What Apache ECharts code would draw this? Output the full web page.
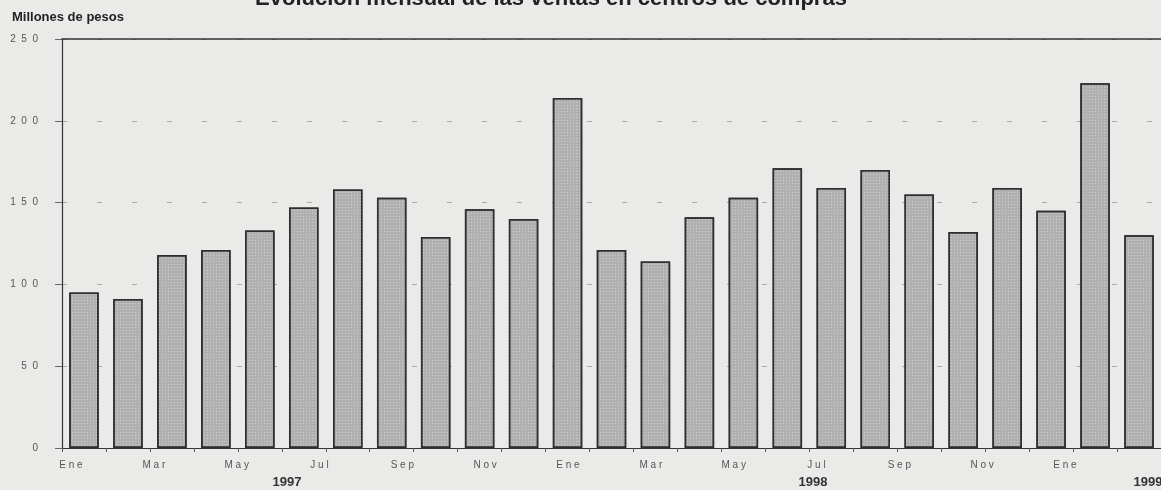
<!DOCTYPE html>
<html>
<head>
<meta charset="utf-8">
<script src="https://cdn.jsdelivr.net/npm/echarts@6/dist/echarts.min.js"></script>
<style>
  html, body { margin: 0; padding: 0; background: #eaeae8; }
  #chart { width: 1161px; height: 490px; }
</style>
</head>
<body>
<div id="chart"></div>
<script>
// meses de Ene 1997 a Ene 1999
const months = ['Ene','Feb','Mar','Abr','May','Jun','Jul','Ago','Sep','Oct','Nov','Dic',
                'Ene','Feb','Mar','Abr','May','Jun','Jul','Ago','Sep','Oct','Nov','Dic',
                'Ene']
// ventas, millones de pesos
const sales = [95, 91, 118, 121, 133, 147, 158, 153, 129, 146, 140, 214,
               121, 114, 141, 153, 171, 159, 170, 155, 132, 159, 145, 223,
               130]
const years = ['1997', '1998', '1999']
const yMin = 0, yMax = 250, yStep = 50

const spaced = (s) => String(s).split('').join(' ')
const font = "'Liberation Sans', Arial, sans-serif"
const yearX = [287, 813, 1148]

var myChart = echarts.init(document.getElementById('chart'))
myChart.setOption({
  backgroundColor: '#eaeae8',
  animation: false,
  title: {
    text: 'Evolución mensual de las ventas en centros de compras',
    left: 546, top: -17, textAlign: 'center',
    textStyle: { fontFamily: font, fontSize: 22, fontWeight: 'bold', color: '#222' }
  },
  graphic: [
    { type: 'text', left: 12, top: 11,
      style: { text: 'Millones de pesos', font: 'bold 13px ' + font, fill: '#222' } }
  ].concat(years.map((y, i) => ({
    type: 'text', x: yearX[i], y: 476,
    style: { text: y, font: 'bold 13px ' + font, fill: '#333', align: 'center' }
  }))),
  grid: [
    { left: 62, right: -5, top: 39, bottom: 42 },
    { left: 71, right: 96, top: 39, bottom: 42 }
  ],
  xAxis: [
    {
      type: 'category', data: months, gridIndex: 0,
      axisLine: { lineStyle: { color: '#333', width: 1.2 } },
      axisTick: { show: true, length: 4, lineStyle: { color: '#555' } },
      axisLabel: { show: false }
    },
    {
      type: 'category', data: months, gridIndex: 0, position: 'top',
      axisLine: { lineStyle: { color: '#333', width: 1.6 } },
      axisTick: { show: false }, axisLabel: { show: false }
    },
    {
      type: 'category', data: months, gridIndex: 1, boundaryGap: false,
      axisLine: { show: false }, axisTick: { show: false },
      axisLabel: {
        interval: 1, margin: 12, color: '#555', fontSize: 10, fontFamily: font,
        formatter: spaced
      }
    }
  ],
  yAxis: [
    {
      type: 'value', gridIndex: 0, min: yMin, max: yMax, interval: yStep,
      axisLine: { show: true, lineStyle: { color: '#333', width: 1.2 } },
      axisTick: { show: true, length: 7, lineStyle: { color: '#666' } },
      axisLabel: {
        margin: 24, color: '#555', fontSize: 10, fontFamily: font,
        formatter: (v) => String(v).split('').join('  ')
      },
      splitLine: { show: true, lineStyle: { color: '#aaa', type: [5, 30], width: 1 } }
    },
    { type: 'value', gridIndex: 1, show: false }
  ],
  series: [{
    type: 'bar', data: sales, xAxisIndex: 0, yAxisIndex: 0,
    barWidth: '67%',
    itemStyle: {
      color: '#b0b0b0', borderColor: '#2e2e2e', borderWidth: 1.5,
      decal: {
        symbol: 'rect', symbolSize: 1, color: 'rgba(255,255,255,0.4)',
        dashArrayX: [1, 2], dashArrayY: [1, 2]
      }
    }
  }]
})
</script>
</body>
</html>
